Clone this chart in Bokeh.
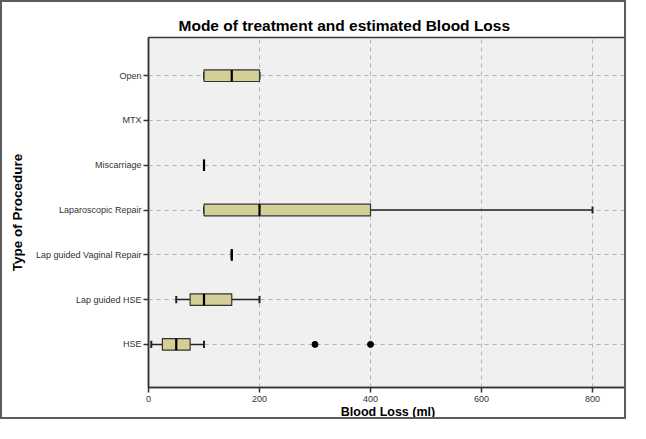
from bokeh.plotting import figure
from bokeh.models import FixedTicker, Range1d, ColumnDataSource
from bokeh.embed import file_html
from bokeh.resources import INLINE

# Categories bottom -> top
categories = ["HSE", "Lap guided HSE", "Lap guided Vaginal Repair",
              "Laparoscopic Repair", "Miscarriage", "MTX", "Open"]
# five-number summaries (None = no data)
lower_whisker = [5, 50, 150, 100, 100, None, 100]
q1 = [25, 75, 150, 100, 100, None, 100]
median = [50, 100, 150, 200, 100, None, 150]
q3 = [75, 150, 150, 400, 100, None, 200]
upper_whisker = [100, 200, 150, 800, 100, None, 200]
outlier_cat = ["HSE", "HSE"]
outlier_val = [300, 400]
x_ticks = [0, 200, 400, 600, 800]

FONT = "Liberation Sans"
BOX_H = 0.26
CAP_H = 0.16

p = figure(width=626, height=419, output_backend="svg", toolbar_location=None,
           x_range=Range1d(0, 863), y_range=Range1d(-0.963, 6.853),
           min_border_left=146, min_border_right=1, min_border_top=35,
           min_border_bottom=32)
p.styles = {"border": "2px solid #5c5c5c"}

p.background_fill_color = "#f0f0f0"
p.border_fill_color = "white"
p.outline_line_color = "#3a3a3a"
p.outline_line_width = 1.5

p.title.text = "Mode of treatment and estimated Blood Loss"
p.title.text_font = FONT
p.title.text_font_size = "15.5px"
p.title.text_font_style = "bold"
p.title.align = "left"
p.title.offset = 30
p.title.standoff = 8
p.title.text_color = "black"

ys = list(range(len(categories)))
idx = {c: i for i, c in enumerate(categories)}

valid = [i for i in ys if q1[i] is not None]
box = ColumnDataSource(dict(
    y=[i for i in valid],
    q1=[q1[i] for i in valid],
    q3=[q3[i] for i in valid],
    med=[median[i] for i in valid],
    lw=[lower_whisker[i] for i in valid],
    uw=[upper_whisker[i] for i in valid],
    ytop=[i + BOX_H / 2 for i in valid],
    ybot=[i - BOX_H / 2 for i in valid],
    ctop=[i + CAP_H / 2 for i in valid],
    cbot=[i - CAP_H / 2 for i in valid],
))

# whiskers
p.segment(x0="lw", y0="y", x1="q1", y1="y", source=box, line_color="#222222", line_width=1.5)
p.segment(x0="q3", y0="y", x1="uw", y1="y", source=box, line_color="#222222", line_width=1.5)
p.segment(x0="lw", y0="cbot", x1="lw", y1="ctop", source=box, line_color="#222222", line_width=2)
p.segment(x0="uw", y0="cbot", x1="uw", y1="ctop", source=box, line_color="#222222", line_width=2)
# boxes
p.hbar(y="y", left="q1", right="q3", height=BOX_H, source=box,
       fill_color="#d4cf97", line_color="#333333", line_width=1.2)
# median
p.segment(x0="med", y0="ybot", x1="med", y1="ytop", source=box, line_color="black", line_width=2.2)
# outliers
p.scatter(outlier_val, [idx[c] for c in outlier_cat], size=6, color="black")

# axes
p.xaxis.ticker = FixedTicker(ticks=x_ticks)
p.yaxis.ticker = FixedTicker(ticks=ys)
p.yaxis.major_label_overrides = {i: c for i, c in enumerate(categories)}
p.xaxis.axis_label = "Blood Loss (ml)"
p.yaxis.axis_label = "Type of Procedure"
for ax in (p.xaxis, p.yaxis):
    ax.axis_label_text_font = FONT
    ax.axis_label_text_font_style = "bold"
    ax.axis_label_text_color = "black"
    ax.major_label_text_font = FONT
    ax.major_label_text_font_size = "9px"
    ax.major_label_text_color = "#333333"
    ax.axis_line_color = "#333333"
    ax.axis_line_width = 1.5
    ax.major_tick_line_color = "#333333"
    ax.major_tick_line_width = 1.5
    ax.major_tick_in = 0
    ax.major_tick_out = 5
    ax.minor_tick_line_color = None
p.xaxis.axis_label_text_font_size = "12.5px"
p.yaxis.axis_label_text_font_size = "13.5px"
p.xaxis.major_label_standoff = 3
p.xaxis.axis_label_standoff = 0
p.yaxis.major_label_standoff = 2
p.yaxis.axis_label_standoff = 8

p.grid.grid_line_color = "#b4b4b4"
p.grid.grid_line_dash = "4 4"
p.grid.grid_line_width = 1

open("out.html", "w").write(file_html(p, INLINE))
